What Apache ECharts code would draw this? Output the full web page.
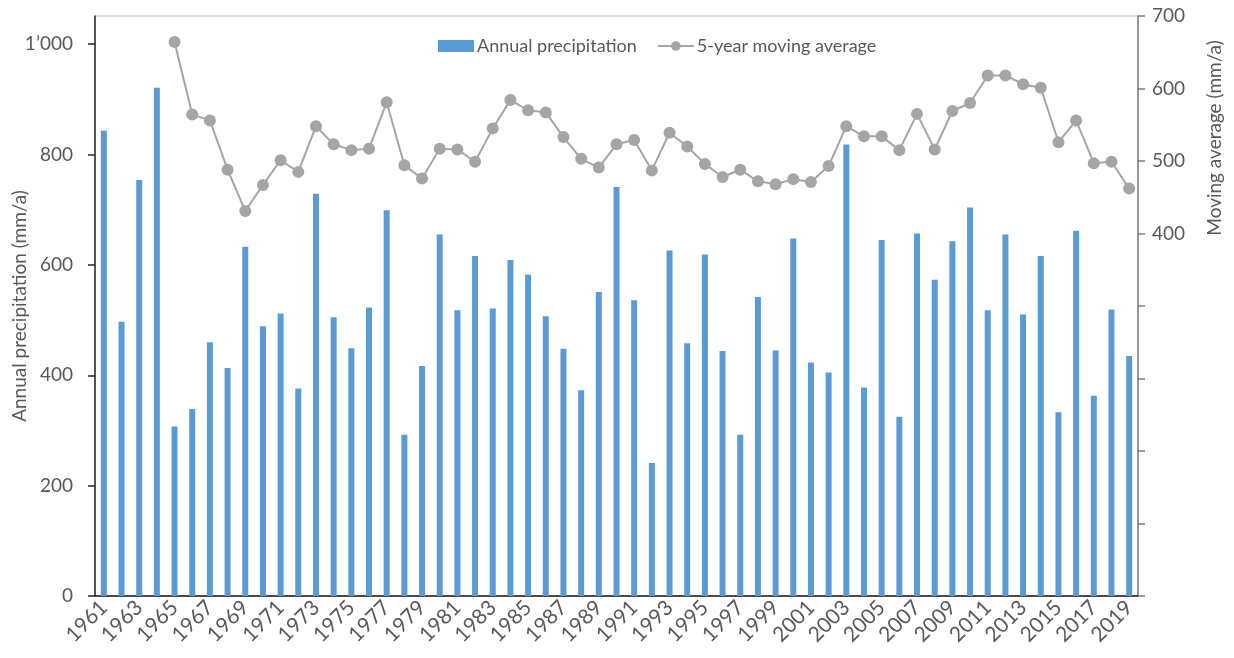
<!DOCTYPE html>
<html>
<head>
<meta charset="utf-8">
<script src="https://cdn.jsdelivr.net/npm/echarts@6/dist/echarts.min.js"></script>
<style>html,body{margin:0;padding:0;background:#fff;}#c{width:1234px;height:658px;}</style>
</head>
<body>
<div id="c"></div>
<script>
var years = [];
for (var y = 1961; y <= 2019; y++) years.push(String(y));

var precipitation = [
  843, 497, 754, 921, 307, 339, 460, 413, 633, 489,
  512, 376, 729, 505, 449, 523, 699, 292, 417, 655,
  518, 616, 521, 609, 582, 507, 448, 373, 551, 741,
  536, 241, 626, 458, 619, 444, 292, 542, 445, 648,
  423, 405, 818, 378, 645, 325, 657, 573, 643, 704,
  518, 655, 510, 616, 333, 662, 363, 519, 435
];

var movingAverage = [
  null, null, null, null, 664, 564, 556, 488, 431, 467,
  501, 485, 548, 523, 515, 517, 581, 494, 476, 517,
  516, 499, 545, 584, 570, 567, 533, 503, 491, 523,
  529, 487, 539, 520, 496, 478, 488, 472, 468, 475,
  471, 493, 548, 534, 534, 515, 565, 516, 569, 580,
  618, 618, 606, 601, 526, 556, 497, 499, 462
];

var leftTicks = [0, 200, 400, 600, 800, 1000];
var rightTicks = [400, 500, 600, 700];

var FONT = 'Lato';
var TXT = '#595959';

var chart = echarts.init(document.getElementById('c'), null, {renderer: 'canvas'});
chart.setOption({
  animation: false,
  textStyle: {fontFamily: FONT},
  grid: {left: 95, right: 96, top: 16, bottom: 62, show: true, borderColor: '#bfbfbf', borderWidth: 1,
    containLabel: false, outerBoundsMode: 'none'},
  legend: {
    top: 32, left: 433,
    itemWidth: 36, itemHeight: 12, itemGap: 20,
    textStyle: {fontFamily: FONT, fontSize: 18, color: TXT, padding: [0,0,0,-2]},
    data: [
      {name: 'Annual precipitation', icon: 'rect'},
      {name: '5-year moving average'}
    ]
  },
  xAxis: {
    type: 'category',
    data: years,
    boundaryGap: true,
    axisLine: {lineStyle: {color: '#1a1a1a', width: 1.5}},
    axisTick: {show: false},
    axisLabel: {interval: 1, rotate: 45, fontFamily: FONT, fontSize: 21, color: TXT, margin: 8},
    splitLine: {show: false}
  },
  yAxis: [
    {
      type: 'value',
      min: 0, max: 1051, interval: 200,
      position: 'left',
      name: 'Annual precipitation (mm/a)',
      nameLocation: 'middle',
      nameGap: 66,
      nameMoveOverlap: false,
      nameTextStyle: {fontFamily: FONT, fontSize: 19, color: TXT},
      axisLine: {show: true, lineStyle: {color: '#262626', width: 1.5}},
      axisTick: {show: true, inside: false, length: 7, lineStyle: {color: '#262626', width: 1.5},
        customValues: leftTicks},
      axisLabel: {
        fontFamily: FONT, fontSize: 19, color: TXT, margin: 22,
        customValues: leftTicks,
        formatter: function (v) { return v >= 1000 ? '1\u2019000' : String(v); }
      },
      splitLine: {show: false}
    },
    {
      type: 'value',
      min: -100, max: 700, interval: 100,
      position: 'right',
      axisLine: {show: true, lineStyle: {color: '#7f7f7f', width: 1.5}},
      axisTick: {show: true, inside: false, length: 7, lineStyle: {color: '#7f7f7f', width: 1.5}},
      axisLabel: {
        fontFamily: FONT, fontSize: 19, color: TXT, margin: 14,
        formatter: function (v) { return rightTicks.indexOf(v) >= 0 ? String(v) : ''; }
      },
      splitLine: {show: false}
    }
  ],
  graphic: [{
    type: 'text',
    x: 1215, y: 138,
    rotation: Math.PI / 2,
    style: {text: 'Moving average (mm/a)', fontFamily: FONT, fontSize: 19, fill: TXT, align: 'center', verticalAlign: 'middle'}
  }],
  series: [
    {
      name: 'Annual precipitation',
      type: 'bar',
      yAxisIndex: 0,
      data: precipitation,
      barWidth: 6,
      itemStyle: {color: '#5B9BD5'}
    },
    {
      name: '5-year moving average',
      type: 'line',
      yAxisIndex: 1,
      data: movingAverage,
      symbol: 'circle',
      symbolSize: 12,
      showAllSymbol: true,
      connectNulls: false,
      lineStyle: {color: '#A5A5A5', width: 2},
      itemStyle: {color: '#A5A5A5'}
    }
  ]
});
</script>
</body>
</html>
